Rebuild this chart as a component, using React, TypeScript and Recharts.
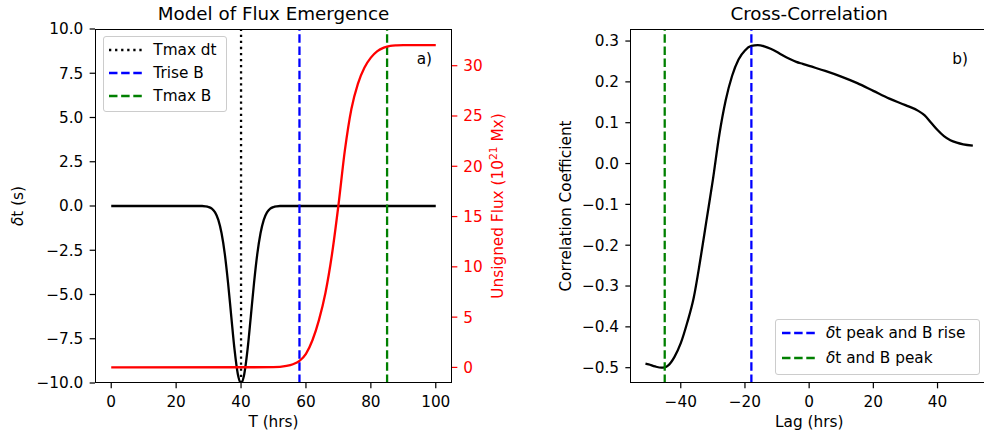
import React from "react";
import { LineChart, Line, XAxis, YAxis, ReferenceLine } from "recharts";

// panel a): delta-t dip and the flux rise
const dtHours = [0, 25, 28, 29, 30, 31, 32, 33, 34, 35, 36, 37, 38, 39, 40, 41, 42, 43, 44, 45, 46, 47, 48, 49, 50, 51, 52, 55, 100];
const dtValues = [0, 0, 0, -0.02, -0.06, -0.15, -0.36, -0.78, -1.54, -2.72, -4.35, -6.26, -8.12, -9.49, -10, -9.49, -8.12, -6.26, -4.35, -2.72, -1.54, -0.78, -0.36, -0.15, -0.06, -0.02, 0, 0, 0];
const fluxHours = [0, 50, 54, 56, 58, 60, 62, 64, 66, 68, 70, 72, 74, 76, 78, 80, 82, 84, 86, 88, 90, 100];
const fluxValues = [0, 0.02, 0.15, 0.32, 0.65, 1.35, 2.7, 4.7, 7.4, 11.2, 16.1, 21.6, 25.7, 28.2, 29.8, 30.8, 31.45, 31.8, 31.98, 32.03, 32.05, 32.05];
const tTicks = [0, 20, 40, 60, 80, 100];
const dtTicks = [-10, -7.5, -5, -2.5, 0, 2.5, 5, 7.5, 10];
const fluxTicks = [0, 5, 10, 15, 20, 25, 30];
const tmaxDt = 40;
const triseB = 58;
const tmaxB = 85;

// panel b): cross-correlation against lag
const lagHours = [-51, -50, -48, -46, -45, -44, -42, -40, -38, -36, -34, -32, -30, -28, -26, -24, -22, -20, -18, -16, -14, -12, -10, -8, -6, -4, -2, 0, 5, 10, 15, 20, 25, 30, 34, 36, 38, 40, 42, 44, 46, 48, 51];
const corrValues = [-0.49, -0.492, -0.497, -0.5, -0.499, -0.495, -0.474, -0.44, -0.39, -0.33, -0.24, -0.14, -0.04, 0.07, 0.155, 0.215, 0.255, 0.277, 0.288, 0.29, 0.287, 0.281, 0.273, 0.264, 0.256, 0.249, 0.244, 0.239, 0.227, 0.213, 0.197, 0.178, 0.159, 0.143, 0.129, 0.118, 0.1, 0.082, 0.067, 0.057, 0.051, 0.047, 0.044];
const lagTicks = [-40, -20, 0, 20, 40];
const corrTicks = [-0.5, -0.4, -0.3, -0.2, -0.1, 0, 0.1, 0.2, 0.3];
const peakRiseLag = -18;
const peakPeakLag = -45;

const zip = (xs: number[], ys: number[]) => xs.map((x, i) => ({ x, y: ys[i] }));
const dtData = zip(dtHours, dtValues);
const fluxData = zip(fluxHours, fluxValues);
const corrData = zip(lagHours, corrValues);

// figure was saved at ~110 dpi: 10pt text = 15.3px, 1.5pt line = 2.29px
const FONT = "DejaVu Sans";
const FS = 15.3;
const LW = 2.29;
const DASH = "8.48 3.67";
const DOT = "2.29 3.78";
const tick = (fill: string) => ({ fontSize: FS, fontFamily: FONT, fill });
const tickLine = (stroke: string) => ({ stroke, strokeWidth: 1.22 });
const minus = (s: string) => s.replace("-", "\u2212");
const fmt1 = (v: number) => minus(v.toFixed(1));
const fmt0 = (v: number) => minus(String(Math.round(v)));
const delta = <i>δ</i>;

function Txt({ x, y, children, size = FS, color = "#000", rotate = false, left = false }: {
  x: number; y: number; children: React.ReactNode; size?: number; color?: string; rotate?: boolean; left?: boolean;
}) {
  const tf = left ? "translate(0,-50%)" : `translate(-50%,-50%)${rotate ? " rotate(-90deg)" : ""}`;
  return (
    <div style={{ position: "absolute", left: x, top: y, transform: tf, whiteSpace: "nowrap", fontSize: size, color, lineHeight: "normal" }}>
      {children}
    </div>
  );
}

function Frame({ x, y, w, h }: { x: number; y: number; w: number; h: number }) {
  return <div style={{ position: "absolute", left: x - 0.5, top: y - 0.5, width: w, height: h, border: "1px solid #000", boxSizing: "border-box", pointerEvents: "none" }} />;
}

type Item = { label: React.ReactNode; color: string; dash: string };
function LegendBox({ x, y, w, h, sx, tx, rows, items }: {
  x: number; y: number; w: number; h: number; sx: number; tx: number; rows: number[]; items: Item[];
}) {
  return (
    <>
      <div style={{ position: "absolute", left: x, top: y, width: w, height: h, border: "1px solid #cccccc", borderRadius: 3, background: "rgba(255,255,255,0.8)", boxSizing: "border-box" }} />
      {items.map((it, i) => (
        <React.Fragment key={i}>
          <svg style={{ position: "absolute", left: sx, top: rows[i] - 3 }} width={34} height={6}>
            <line x1={0} y1={3} x2={33} y2={3} stroke={it.color} strokeWidth={LW} strokeDasharray={it.dash} />
          </svg>
          <Txt x={tx} y={rows[i]} left>{it.label}</Txt>
        </React.Fragment>
      ))}
    </>
  );
}

export default function App() {
  return (
    <div style={{ position: "fixed", left: 0, top: 0, width: 984, height: 437, overflow: "hidden", background: "#fff", fontFamily: FONT }}>
      <div style={{ position: "absolute", left: 0, top: 0 }}>
        <LineChart width={540} height={437} margin={{ top: 29, right: 28, bottom: 24, left: 35 }}>
          <XAxis type="number" dataKey="x" domain={[-5, 105]} ticks={tTicks} allowDataOverflow interval={0}
            axisLine={false} tickLine={tickLine("#000")} tick={tick("#000")} tickSize={5.35} tickMargin={7.7} height={30} tickFormatter={fmt0} />
          <YAxis yAxisId="l" type="number" domain={[-10, 10]} ticks={dtTicks} allowDataOverflow interval={0}
            axisLine={false} tickLine={tickLine("#000")} tick={tick("#000")} tickSize={5.35} tickMargin={6.3} width={60} tickFormatter={fmt1} />
          <YAxis yAxisId="r" orientation="right" type="number" domain={[-1.55, 33.65]} ticks={fluxTicks} allowDataOverflow interval={0}
            axisLine={false} tickLine={tickLine("#ff0000")} tick={tick("#ff0000")} tickSize={5.35} tickMargin={6} width={60} tickFormatter={fmt0} />
          <Line yAxisId="l" data={dtData} dataKey="y" type="monotone" stroke="#000" strokeWidth={LW} dot={false} activeDot={false} isAnimationActive={false} />
          <ReferenceLine yAxisId="l" x={tmaxDt} stroke="#000" strokeWidth={LW} strokeDasharray={DOT} />
          <ReferenceLine yAxisId="l" x={triseB} stroke="#0000ff" strokeWidth={LW} strokeDasharray={DASH} />
          <ReferenceLine yAxisId="l" x={tmaxB} stroke="#008000" strokeWidth={LW} strokeDasharray={DASH} />
          <Line yAxisId="r" data={fluxData} dataKey="y" type="monotone" stroke="#ff0000" strokeWidth={LW} dot={false} activeDot={false} isAnimationActive={false} />
        </LineChart>
      </div>
      <div style={{ position: "absolute", left: 560, top: 0 }}>
        <LineChart width={460} height={437} margin={{ top: 29, right: 32.4, bottom: 24, left: 10.7 }}>
          <XAxis type="number" dataKey="x" domain={[-55.6, 55.6]} ticks={lagTicks} allowDataOverflow interval={0}
            axisLine={false} tickLine={tickLine("#000")} tick={tick("#000")} tickSize={5.35} tickMargin={7.7} height={30} tickFormatter={fmt0} />
          <YAxis type="number" domain={[-0.5375, 0.3295]} ticks={corrTicks} allowDataOverflow interval={0}
            axisLine={false} tickLine={tickLine("#000")} tick={tick("#000")} tickSize={5.35} tickMargin={6.3} width={60} tickFormatter={fmt1} />
          <Line data={corrData} dataKey="y" type="monotone" stroke="#000" strokeWidth={LW} dot={false} activeDot={false} isAnimationActive={false} />
          <ReferenceLine x={peakRiseLag} stroke="#0000ff" strokeWidth={LW} strokeDasharray={DASH} />
          <ReferenceLine x={peakPeakLag} stroke="#008000" strokeWidth={LW} strokeDasharray={DASH} />
        </LineChart>
      </div>

      <Frame x={95} y={29} w={357} h={354} />
      <Frame x={630.7} y={29} w={357} h={354.3} />

      <Txt x={273.5} y={12.7} size={18.3}>Model of Flux Emergence</Txt>
      <Txt x={809.2} y={12.7} size={18.3}>Cross-Correlation</Txt>
      <Txt x={273.5} y={421.7}>T (hrs)</Txt>
      <Txt x={809.2} y={421.7}>Lag (hrs)</Txt>
      <Txt x={17.8} y={206} rotate>{delta}t (s)</Txt>
      <Txt x={496.5} y={206} rotate color="#ff0000">Unsigned Flux (10<sup style={{ fontSize: "70%" }}>21</sup> Mx)</Txt>
      <Txt x={566.4} y={206} rotate>Correlation Coefficient</Txt>
      <Txt x={416.7} y={58.6} left>a)</Txt>
      <Txt x={952.3} y={58.6} left>b)</Txt>

      <LegendBox x={102.7} y={36} w={124} h={75.7} sx={109} tx={153.3} rows={[49.7, 73, 96.4]}
        items={[
          { label: "Tmax dt", color: "#000", dash: DOT },
          { label: "Trise B", color: "#0000ff", dash: DASH },
          { label: "Tmax B", color: "#008000", dash: DASH },
        ]} />
      <LegendBox x={775} y={319.3} w={205} h={55.7} sx={781.7} tx={826} rows={[333, 358]}
        items={[
          { label: <>{delta}t peak and B rise</>, color: "#0000ff", dash: DASH },
          { label: <>{delta}t and B peak</>, color: "#008000", dash: DASH },
        ]} />
    </div>
  );
}
